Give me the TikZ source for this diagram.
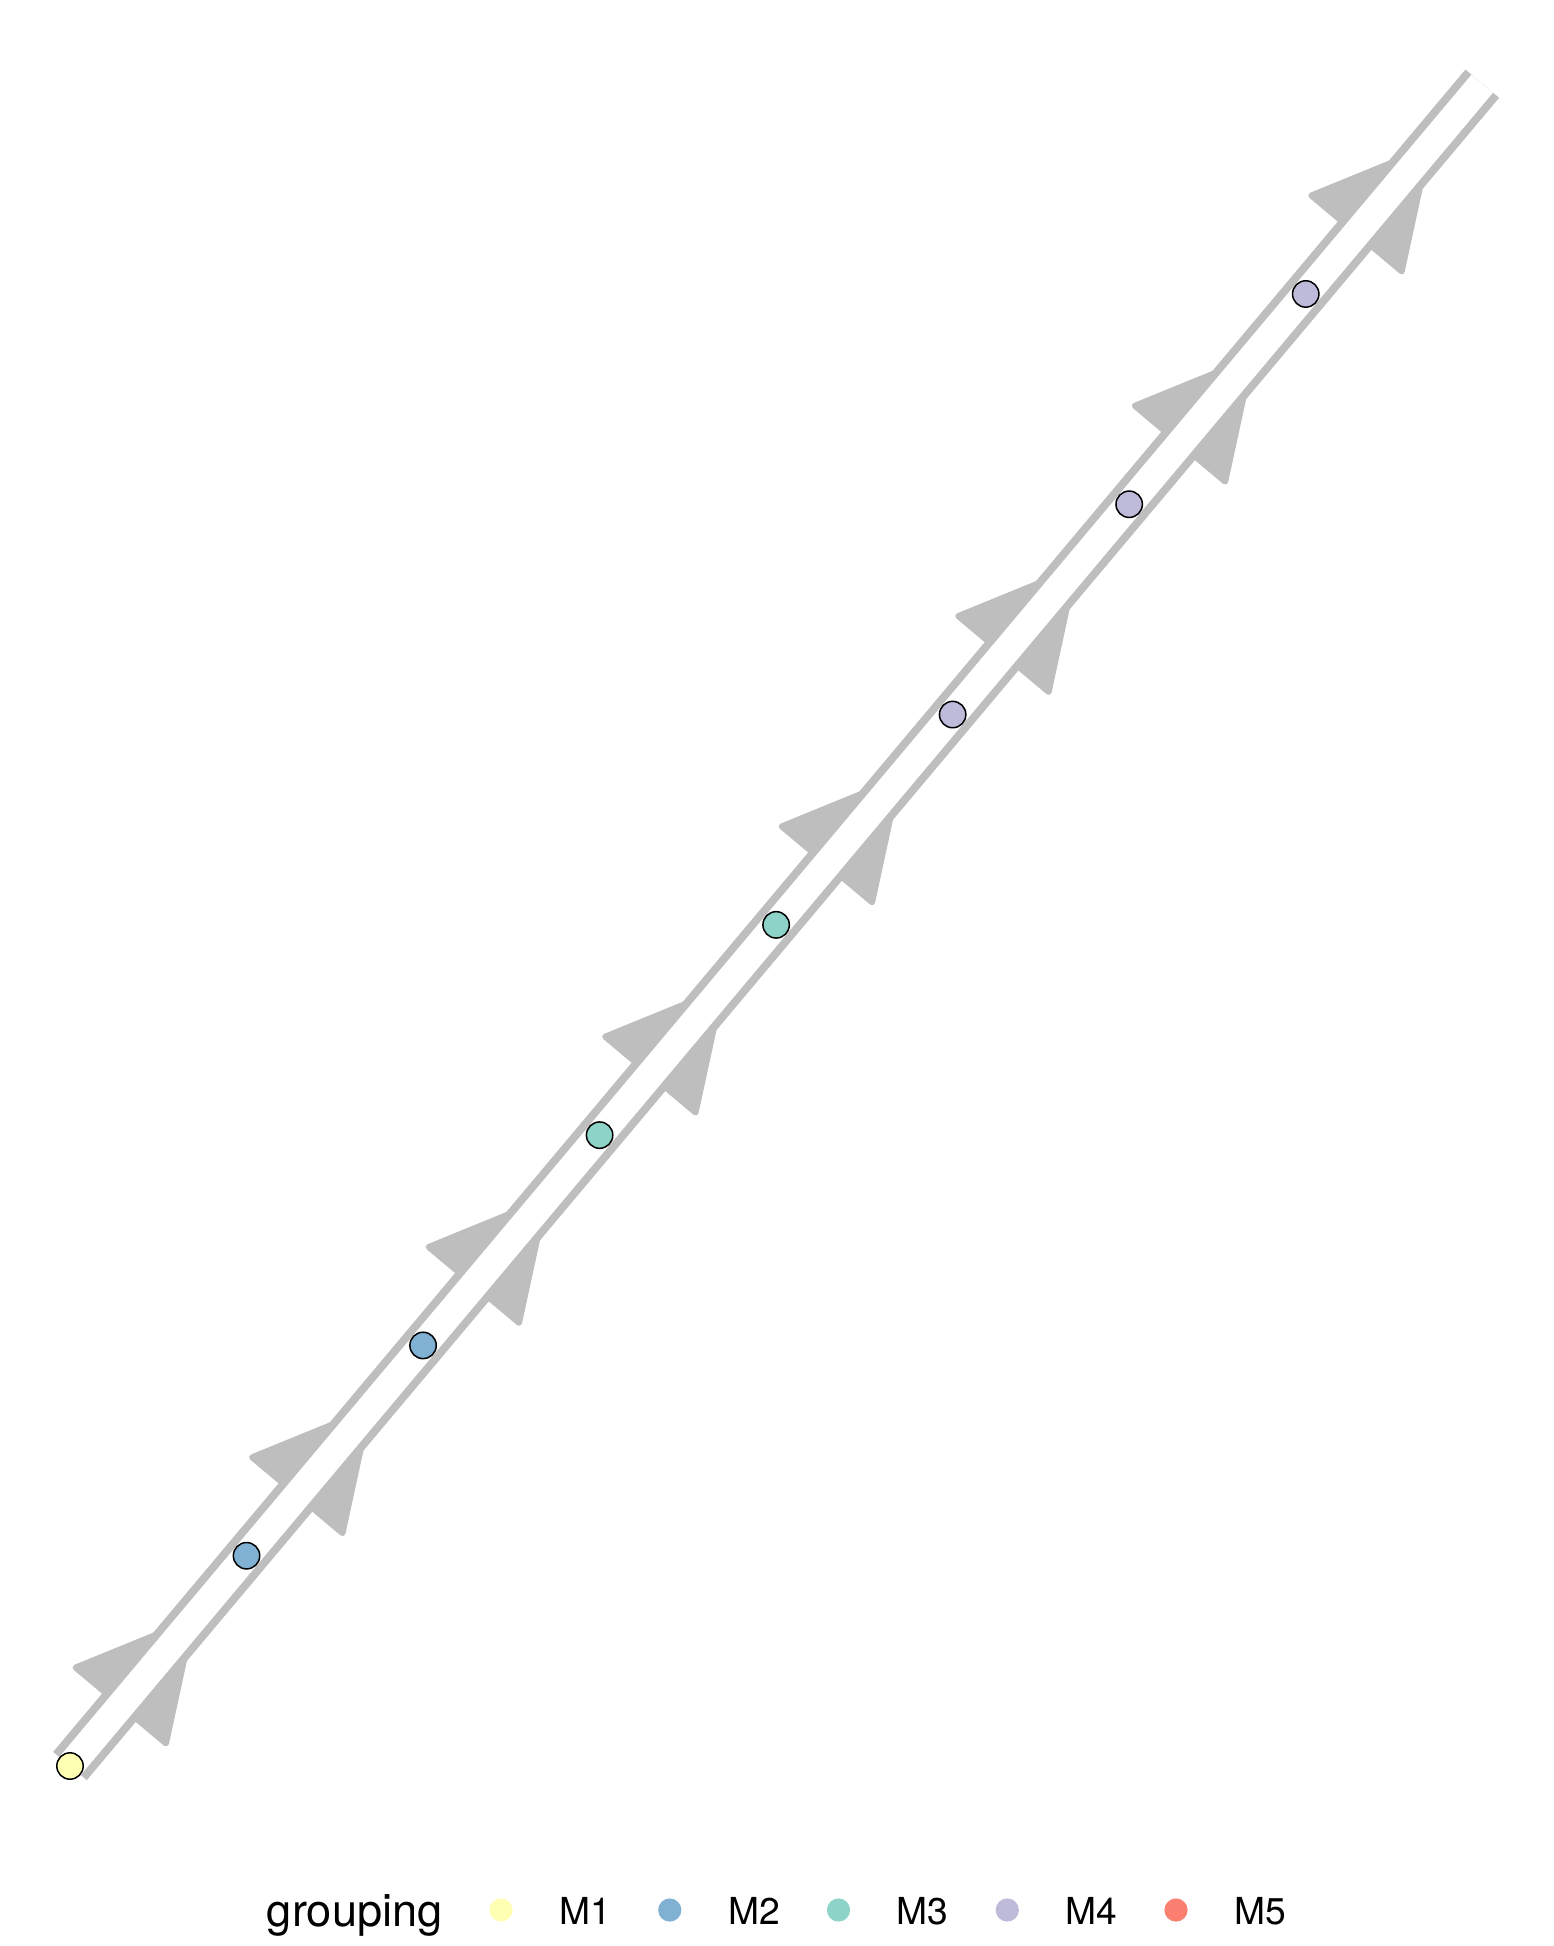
\documentclass[tikz,border=0pt]{standalone}
\usepackage{fontspec}
\setmainfont{TeX Gyre Heros}
\usetikzlibrary{calc}
\definecolor{trajgrey}{HTML}{BEBEBE}
\definecolor{mone}{HTML}{FFFFB3}
\definecolor{mtwo}{HTML}{80B1D3}
\definecolor{mthree}{HTML}{8DD3C7}
\definecolor{mfour}{HTML}{BEBADA}
\definecolor{mfive}{HTML}{FB8072}
\tikzstyle{border} = [draw=trajgrey, line width=22pt]
\tikzstyle{inner} = [draw=white, line width=14pt]
\tikzstyle{head} = [fill=trajgrey, draw=trajgrey, line width=3pt, line join=round]
\tikzstyle{cell} = [circle, draw=black, line width=0.75pt, minimum size=13.2pt, inner sep=0pt]
\tikzstyle{key} = [circle, minimum size=11.6pt, inner sep=0pt]
\tikzstyle{keylabel} = [anchor=base west, inner sep=0pt, font=\fontsize{18.6}{22}\selectfont]

\begin{document}
\begin{tikzpicture}[x=0.5pt, y=-0.5pt]
    \useasboundingbox (0,0) rectangle (1553,1946);
    % Place points
    \foreach \i in {1,...,9}
        \coordinate (p\i) at ({70+(\i-1)*176.53}, {1766-(\i-1)*210.29});
    % Draw trajectory
    \path [border] (p1) -- (p9);
    \foreach \i in {1,...,8}
        \path [head, shift={(p\i)}, rotate=50] (191,0) -- (79,59) -- (79,-59) -- cycle;
    \path [inner] (p1) -- (p9);
    % Place cells
    \node [cell, fill=mone] (c1) at (p1) {};
    \node [cell, fill=mtwo] (c2) at (p2) {};
    \node [cell, fill=mtwo] (c3) at (p3) {};
    \node [cell, fill=mthree] (c4) at (p4) {};
    \node [cell, fill=mthree] (c5) at (p5) {};
    \node [cell, fill=mfour] (c6) at (p6) {};
    \node [cell, fill=mfour] (c7) at (p7) {};
    \node [cell, fill=mfour] (c8) at (p8) {};
    % Legend
    \node [anchor=base west, inner sep=0pt, font=\fontsize{22.6}{27}\selectfont] (title) at (266.5,1926) {grouping};
    \foreach \c/\t [count=\i] in {mone/M1, mtwo/M2, mthree/M3, mfour/M4, mfive/M5} {
        \node [key, fill=\c] (k\i) at ({501+(\i-1)*168.75}, 1910) {};
        \node [keylabel] (l\i) at ({559+(\i-1)*168.75}, 1924) {\t};
    }
\end{tikzpicture}
\end{document}
